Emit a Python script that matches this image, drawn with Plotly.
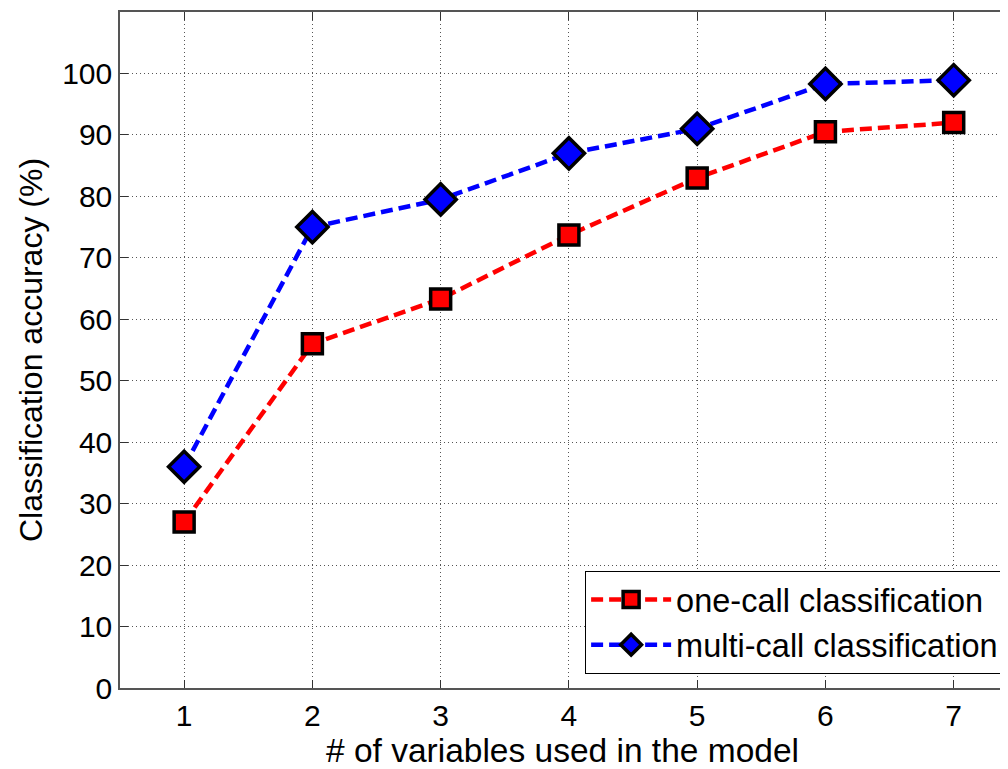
import plotly.graph_objects as go

x_vals = [1, 2, 3, 4, 5, 6, 7]
one_call = [27, 56, 63.3, 73.7, 83, 90.5, 92]
multi_call = [36, 75, 79.5, 87, 91, 98.3, 98.9]
x_ticks = [1, 2, 3, 4, 5, 6, 7]
y_ticks = [0, 10, 20, 30, 40, 50, 60, 70, 80, 90, 100]

fig = go.Figure()
fig.add_trace(go.Scatter(
    x=x_vals, y=one_call, mode="lines+markers", name="one-call classification",
    line=dict(color="#ff0000", width=4.5, dash="12px,6px"),
    marker=dict(symbol="square", size=20, color="#ff0000", line=dict(color="black", width=3.5)),
))
fig.add_trace(go.Scatter(
    x=x_vals, y=multi_call, mode="lines+markers", name="multi-call classification",
    line=dict(color="#0000ff", width=4.5, dash="12px,6px"),
    marker=dict(symbol="diamond", size=24, color="#0000ff", line=dict(color="black", width=3.5)),
))

font_family = "Liberation Sans, Arial, sans-serif"
fig.update_layout(
    width=1000, height=761,
    margin=dict(l=112, r=3, t=4, b=81, autoexpand=False),
    paper_bgcolor="white", plot_bgcolor="white",
    font=dict(family=font_family, size=30, color="black"),
    showlegend=True,
    legend=dict(
        x=0.999, y=0.021, xanchor="right", yanchor="bottom",
        bgcolor="white", bordercolor="black", borderwidth=1,
        font=dict(size=32.5), itemwidth=80, tracegroupgap=0,
    ),
    xaxis=dict(
        range=[0.5, 7.4], tickvals=x_ticks, ticks="inside", ticklen=8,
        tickcolor="#333", showline=True, linecolor="#555", linewidth=1.5,
        mirror="ticks", showgrid=True, gridcolor="#555", griddash="1px,3px", gridwidth=1,
        zeroline=False, automargin=False,
        title=dict(text="# of variables used in the model", font=dict(size=33.5), standoff=0),
        tickfont=dict(size=30),
    ),
    yaxis=dict(
        range=[0, 110], tickvals=y_ticks, ticks="inside", ticklen=8,
        tickcolor="#333", showline=True, linecolor="#555", linewidth=1.5,
        showgrid=True, gridcolor="#555", griddash="1px,3px", gridwidth=1,
        zeroline=False, automargin=False,
        title=dict(text="Classification accuracy (%)", font=dict(size=32), standoff=10),
        tickfont=dict(size=30),
    ),
)

fig.write_html("out.html")
